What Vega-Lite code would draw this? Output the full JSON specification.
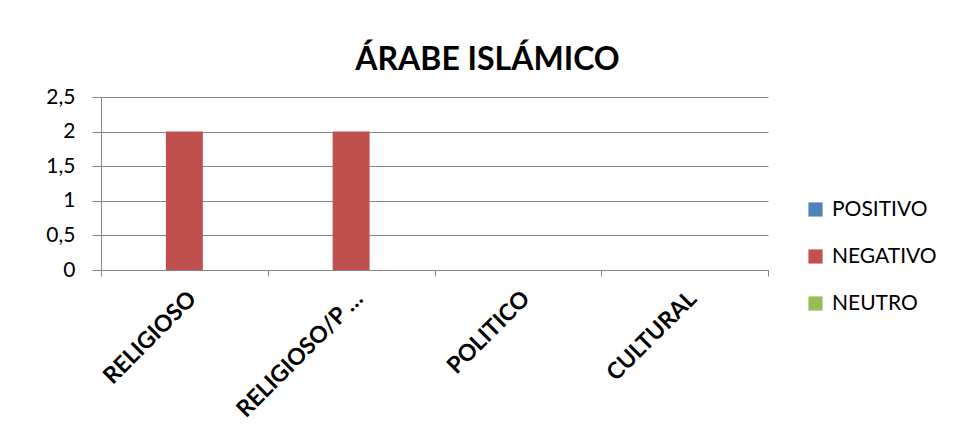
{
  "$schema": "https://vega.github.io/schema/vega-lite/v6.json",
  "width": 667,
  "height": 173,
  "autosize": {"type": "none"},
  "padding": {"left": 101, "top": 97, "right": 187, "bottom": 159},
  "background": "white",
  "title": {
    "text": "ÁRABE ISLÁMICO",
    "font": "Lato",
    "fontSize": 32,
    "fontWeight": "bold",
    "color": "black",
    "anchor": "middle",
    "dx": 53,
    "offset": 9
  },
  "data": {
    "values": [
      {"cat": "RELIGIOSO", "serie": "POSITIVO", "v": 0},
      {"cat": "RELIGIOSO", "serie": "NEGATIVO", "v": 2},
      {"cat": "RELIGIOSO", "serie": "NEUTRO", "v": 0},
      {"cat": "RELIGIOSO/P …", "serie": "POSITIVO", "v": 0},
      {"cat": "RELIGIOSO/P …", "serie": "NEGATIVO", "v": 2},
      {"cat": "RELIGIOSO/P …", "serie": "NEUTRO", "v": 0},
      {"cat": "POLITICO", "serie": "POSITIVO", "v": 0},
      {"cat": "POLITICO", "serie": "NEGATIVO", "v": 0},
      {"cat": "POLITICO", "serie": "NEUTRO", "v": 0},
      {"cat": "CULTURAL", "serie": "POSITIVO", "v": 0},
      {"cat": "CULTURAL", "serie": "NEGATIVO", "v": 0},
      {"cat": "CULTURAL", "serie": "NEUTRO", "v": 0}
    ]
  },
  "mark": {"type": "bar"},
  "encoding": {
    "x": {
      "field": "cat",
      "type": "nominal",
      "sort": null,
      "scale": {"paddingInner": 0, "paddingOuter": 0},
      "axis": {
        "title": null,
        "labelAngle": -45,
        "labelFont": "Lato",
        "labelFontSize": 23,
        "labelFontWeight": "bold",
        "labelColor": "black",
        "labelPadding": 11,
        "tickBand": "extent",
        "tickSize": 6,
        "tickColor": "#868686",
        "domainColor": "#868686",
        "labelLimit": 300
      }
    },
    "xOffset": {"field": "serie", "type": "nominal", "sort": ["POSITIVO", "NEGATIVO", "NEUTRO"], "scale": {"paddingInner": 0, "paddingOuter": 0.757}},
    "y": {
      "field": "v",
      "type": "quantitative",
      "scale": {"domain": [0, 2.5], "nice": false},
      "axis": {
        "title": null,
        "values": [0, 0.5, 1, 1.5, 2, 2.5],
        "labelExpr": "replace(format(datum.value, '~g'), '.', ',')",
        "labelFont": "Lato",
        "labelFontSize": 21,
        "labelColor": "black",
        "labelPadding": 17,
        "tickSize": 9,
        "tickColor": "#868686",
        "domainColor": "#868686",
        "gridColor": "#868686",
        "gridOpacity": 1
      }
    },
    "color": {
      "field": "serie",
      "type": "nominal",
      "sort": ["POSITIVO", "NEGATIVO", "NEUTRO"],
      "scale": {"domain": ["POSITIVO", "NEGATIVO", "NEUTRO"], "range": ["#4F81BD", "#C0504D", "#9BBB59"]},
      "legend": {
        "title": null,
        "orient": "none",
        "legendX": 704,
        "legendY": 102,
        "symbolType": "square",
        "symbolSize": 200,
        "symbolStrokeWidth": 0,
        "labelFont": "Lato",
        "labelFontSize": 21,
        "labelColor": "black",
        "labelOffset": 6,
        "rowPadding": 25
      }
    }
  },
  "config": {"view": {"stroke": null}, "axis": {"domainWidth": 1, "gridWidth": 1}}
}
